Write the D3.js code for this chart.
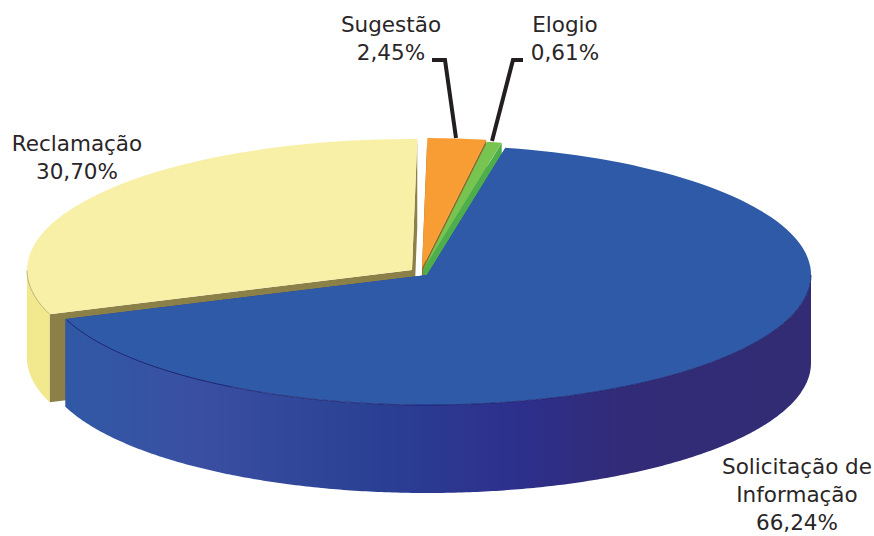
<!DOCTYPE html>
<html><head><meta charset="utf-8">
<script src="https://cdn.jsdelivr.net/npm/d3@7/dist/d3.min.js"></script>
<style>html,body{margin:0;padding:0;background:#fff}svg{display:block}</style>
</head><body><svg id="c" width="874" height="536"></svg>
<script>
const categories = ["Solicitação de Informação", "Reclamação", "Sugestão", "Elogio"];
const values = [66.24, 30.70, 2.45, 0.61];
const labelLines = [["Solicitação de", "Informação"], ["Reclamação"], ["Sugestão"], ["Elogio"]];
const topColors = ["#2f5aa8", "#f8f0a6", "#f89c34", "#78c450"];
const sideColors = ["#322c74", "#f2e88e", "#c87a20", "#4aa84c"];
const cutColors = ["#27408f", "#8b8048", "#9a6a25", "#4fae4c"];
const centers = [[427, 275], [412, 270], [422, 268], [423, 270]];
const radiiX = [384, 385, 385, 385];
const radiiY = [130, 131, 130, 130];
const labelPos = [[797, 474], [77, 151], [391, 32], [565, 32]];
const leaderPaths = [null, null, [[432, 60], [445, 60], [456, 138]], [[523, 60], [513, 60], [492, 141]]];
const wallGradient = [[0, "#2f5aa6"], [0.2, "#3a4fa2"], [0.42, "#2a4194"], [0.62, "#2d2f8c"], [0.75, "#322c78"], [1, "#322c74"]];
const depth = 88;
const startDeg = 11.8;

const svg = d3.select("#c");
const rad = d3.scaleLinear().domain([0, 360]).range([0, 2 * Math.PI]);
const pie = d3.pie().sort(null).startAngle(rad(startDeg)).endAngle(rad(startDeg + 360));
const arcs = pie(values);
const unitArc = d3.arc().innerRadius(0).outerRadius(1);
const fmt = v => v.toFixed(2).replace(".", ",") + "%";

const defs = svg.append("defs");
const grad = defs.append("linearGradient").attr("id", "blueWall")
  .attr("gradientUnits", "userSpaceOnUse").attr("x1", 45).attr("x2", 811).attr("y1", 0).attr("y2", 0);
wallGradient.forEach(s => grad.append("stop").attr("offset", s[0]).attr("stop-color", s[1]));

function pt(i, a, drop) {
  return [centers[i][0] + radiiX[i] * Math.sin(a), centers[i][1] - radiiY[i] * Math.cos(a) + drop];
}
const line = d3.line();

function outerWall(i) {
  const lo = Math.max(arcs[i].startAngle, Math.PI / 2);
  const hi = Math.min(arcs[i].endAngle, 3 * Math.PI / 2);
  if (hi <= lo) return null;
  const steps = d3.range(lo, hi, 0.01).concat([hi]);
  const rim = steps.map(a => pt(i, a, 0));
  const bottom = steps.slice().reverse().map(a => pt(i, a, depth));
  return line(rim.concat(bottom)) + "Z";
}
function cutWall(i, a) {
  const apex = centers[i], p = pt(i, a, 0), q = pt(i, a, depth);
  return line([apex, p, q, [apex[0], apex[1] + depth]]) + "Z";
}
function rimLine(i) {
  const lo = Math.max(arcs[i].startAngle, Math.PI / 2);
  const hi = Math.min(arcs[i].endAngle, 3 * Math.PI / 2);
  return line(d3.range(lo, hi, 0.01).map(a => pt(i, a, 0)));
}

const drawOrder = [1, 2, 3, 0];
drawOrder.forEach(i => {
  const g = svg.append("g").attr("class", "slice");
  const wall = outerWall(i);
  g.append("path").attr("d", cutWall(i, arcs[i].endAngle)).attr("fill", cutColors[i]);
  g.append("path").attr("d", cutWall(i, arcs[i].startAngle)).attr("fill", cutColors[i]);
  if (wall) g.append("path").attr("d", wall).attr("fill", i === 0 ? "url(#blueWall)" : sideColors[i]);
  g.append("path")
    .attr("d", unitArc(arcs[i]))
    .attr("transform", `translate(${centers[i][0]},${centers[i][1]}) scale(${radiiX[i]},${radiiY[i]})`)
    .attr("fill", topColors[i]);
  if (wall) g.append("path").attr("d", rimLine(i)).attr("fill", "none")
    .attr("stroke", i === 0 ? "#1c1c66" : "#a89f5c").attr("stroke-width", 0.8);
});

leaderPaths.forEach(p => {
  if (p) svg.append("path").attr("d", line(p)).attr("fill", "none")
    .attr("stroke", "#231f20").attr("stroke-width", 4);
});

const lineH = 28;
categories.forEach((c, i) => {
  const t = svg.append("text").attr("x", labelPos[i][0]).attr("y", labelPos[i][1])
    .attr("text-anchor", "middle").attr("fill", "#2a2627")
    .attr("font-family", "'DejaVu Sans', Verdana, sans-serif").attr("font-size", 21.5);
  labelLines[i].concat([fmt(values[i])]).forEach((s, k) => {
    t.append("tspan").attr("x", labelPos[i][0]).attr("dy", k ? lineH : 0).text(s);
  });
});
</script></body></html>
